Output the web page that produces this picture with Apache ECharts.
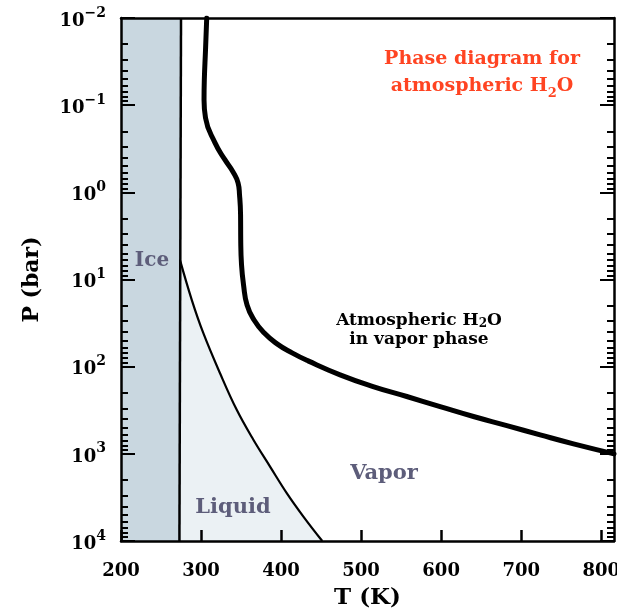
<!DOCTYPE html>
<html>
<head>
<meta charset="utf-8">
<script src="https://cdn.jsdelivr.net/npm/echarts@6/dist/echarts.min.js"></script>
<style>
  html, body { margin: 0; padding: 0; background: #fff; }
  #chart { width: 617px; height: 613px; }
</style>
</head>
<body>
<div id="chart"></div>
<script>
// ice / liquid boundary (almost vertical)
const iceLineT = [275, 273];
const iceLineP = [0.01, 10000];

// left strip shaded as ice
const iceFillT = [200, 274];
const iceFillP = [0.01, 0.01];

// liquid / vapor boundary
const liquidT = [273.75, 288.4, 302.9, 323.75, 344.6, 365.4, 386.25, 407.1, 427.9, 451.5];
const liquidP = [6.0, 17.1, 41.3, 119, 313, 690, 1400, 2820, 5240, 10000];

// atmospheric profile (thick curve)
const profileT = [307.1, 305.6, 304.1, 303.75, 305.6, 317.5, 330, 340, 346.25, 348.1, 349.4, 349.6, 350.6,
  353.1, 357.5, 366.25, 378.75, 395, 413.75, 433.75, 473.75, 515, 557.1, 598.75, 640.4, 682.1, 723.75, 765.4, 816];
const profileP = [0.01, 0.0233, 0.0514, 0.0871, 0.14, 0.271, 0.425, 0.583, 0.78, 1.07, 1.82, 3.52, 6.8,
  11.5, 19.6, 29.1, 40.9, 54.8, 69.5, 85.8, 124, 169, 220, 287, 373, 474, 606, 768, 1000];

const xTicks = [200, 300, 400, 500, 600, 700, 800];
const yTicks = [0.01, 0.1, 1, 10, 100, 1000, 10000];

const FONT = "DejaVu Serif";
const LABEL_COLOR = "#5d5d7a";

// log minor ticks 2..9 in each decade
const yMinor = [];
for (let d = -2; d < 4; d++) {
  for (let m = 2; m <= 9; m++) {
    yMinor.push(+(m * Math.pow(10, d)).toPrecision(3));
  }
}

const zip = (xs, ys) => xs.map((x, i) => [x, ys[i]]);

const chart = echarts.init(document.getElementById("chart"), null, { renderer: "canvas" });

const expLabel = (v) => {
  const e = Math.round(Math.log10(v));
  const s = e < 0 ? "\u2212" + Math.abs(e) : String(e);
  return "{b|10}{s|" + s + "}";
};

const yRich = {
  b: { fontFamily: FONT, fontWeight: "bold", fontSize: 18, color: "#000", lineHeight: 24, verticalAlign: "bottom" },
  s: { fontFamily: FONT, fontWeight: "bold", fontSize: 14, color: "#000", lineHeight: 14, verticalAlign: "top" },
};

function yAxisOf(position, ticks, len, withLine, withLabels) {
  return {
    type: "log",
    logBase: 10,
    min: 0.01,
    max: 10000,
    inverse: true,
    position: position,
    z: 10,
    splitLine: { show: false },
    axisLine: { show: withLine, onZero: false, lineStyle: { color: "#000", width: 2.5 } },
    axisTick: { show: true, inside: true, length: len, customValues: ticks, lineStyle: { color: "#000", width: 2 } },
    axisLabel: withLabels
      ? { show: true, customValues: ticks, margin: 15, formatter: expLabel, rich: yRich }
      : { show: false },
    name: withLabels ? "P (bar)" : "",
    nameLocation: "middle",
    nameGap: 78,
    nameTextStyle: { fontFamily: FONT, fontWeight: "bold", fontSize: 22, color: "#000" },
  };
}

const option = {
  animation: false,
  backgroundColor: "#fff",
  grid: { left: 121, right: 3, top: 18, bottom: 72, containLabel: false, outerBoundsMode: "none" },
  xAxis: [
    {
      type: "value",
      position: "bottom",
      min: 200,
      max: 816,
      z: 10,
      splitLine: { show: false },
      axisLine: { show: true, onZero: false, lineStyle: { color: "#000", width: 2.5 } },
      axisTick: { show: true, inside: true, length: 11, customValues: xTicks, lineStyle: { color: "#000", width: 2.5 } },
      axisLabel: {
        customValues: xTicks,
        margin: 21,
        fontFamily: FONT,
        fontWeight: "bold",
        fontSize: 18,
        color: "#000",
      },
      name: "T (K)",
      nameLocation: "middle",
      nameGap: 46,
      nameTextStyle: { fontFamily: FONT, fontWeight: "bold", fontSize: 23, color: "#000", verticalAlign: "top" },
    },
    {
      type: "value",
      position: "top",
      min: 200,
      max: 816,
      z: 10,
      splitLine: { show: false },
      axisLine: { show: true, onZero: false, lineStyle: { color: "#000", width: 2.5 } },
      axisTick: { show: false },
      axisLabel: { show: false },
    },
  ],
  yAxis: [
    yAxisOf("left", yTicks, 14, true, true),
    yAxisOf("left", yMinor, 7, false, false),
    yAxisOf("right", yTicks, 14, true, false),
    yAxisOf("right", yMinor, 7, false, false),
  ],
  series: [
    {
      name: "ice",
      type: "line",
      data: zip(iceFillT, iceFillP),
      symbol: "none",
      lineStyle: { width: 0 },
      areaStyle: { color: "#c9d7e0", opacity: 1, origin: "end" },
      z: 1,
    },
    {
      name: "liquid",
      type: "line",
      data: zip(liquidT, liquidP),
      symbol: "none",
      smooth: 0.4,
      lineStyle: { color: "#000", width: 2.2 },
      areaStyle: { color: "#ebf1f4", opacity: 1, origin: "end" },
      z: 2,
    },
    {
      name: "ice line",
      type: "line",
      data: zip(iceLineT, iceLineP),
      symbol: "none",
      lineStyle: { color: "#000", width: 2.5 },
      z: 3,
    },
    {
      name: "profile",
      type: "line",
      data: zip(profileT, profileP),
      symbol: "none",
      smooth: true,
      lineStyle: { color: "#000", width: 5, cap: "round", join: "round" },
      z: 4,
    },
  ],
  graphic: [
    {
      type: "text",
      x: 482, y: 73, z: 10,
      style: {
        text: "{r|Phase diagram for}\n{r|atmospheric H}{rs|2}{r|O}",
        align: "center",
        verticalAlign: "middle",
        rich: {
          r: { fontFamily: FONT, fontWeight: "bold", fontSize: 19, fill: "#ff4422", lineHeight: 27 },
          rs: { fontFamily: FONT, fontWeight: "bold", fontSize: 13, fill: "#ff4422", lineHeight: 13, verticalAlign: "bottom" },
        },
      },
    },
    {
      type: "text",
      x: 419, y: 330, z: 10,
      style: {
        text: "{r|Atmospheric H}{rs|2}{r|O}\n{r|in vapor phase}",
        align: "center",
        verticalAlign: "middle",
        rich: {
          r: { fontFamily: FONT, fontWeight: "bold", fontSize: 17, fill: "#000", lineHeight: 19 },
          rs: { fontFamily: FONT, fontWeight: "bold", fontSize: 12, fill: "#000", lineHeight: 12, verticalAlign: "bottom" },
        },
      },
    },
    {
      type: "text",
      x: 152, y: 261, z: 10,
      style: { text: "Ice", font: "bold 20px " + FONT, fill: LABEL_COLOR, align: "center", verticalAlign: "middle" },
    },
    {
      type: "text",
      x: 233, y: 508, z: 10,
      style: { text: "Liquid", font: "bold 21px " + FONT, fill: LABEL_COLOR, align: "center", verticalAlign: "middle" },
    },
    {
      type: "text",
      x: 384, y: 474, z: 10,
      style: { text: "Vapor", font: "bold 21px " + FONT, fill: LABEL_COLOR, align: "center", verticalAlign: "middle" },
    },
  ],
};

chart.setOption(option);
</script>
</body>
</html>
